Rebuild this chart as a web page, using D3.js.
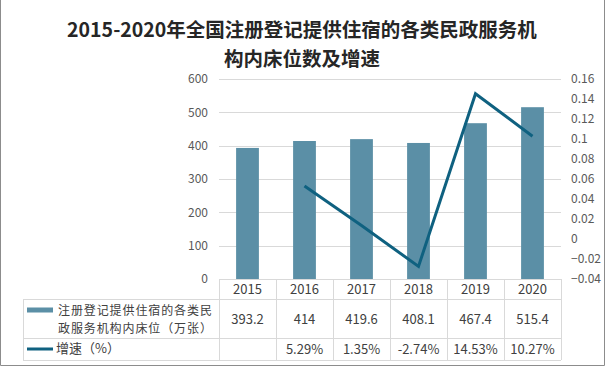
<!DOCTYPE html>
<html><head><meta charset="utf-8">
<script src="https://cdn.jsdelivr.net/npm/d3@7"></script>
<style>
html,body{margin:0;padding:0;background:#fff;}
svg{display:block;}
text{font-family:"Noto Sans CJK SC","Microsoft YaHei",sans-serif;}
</style></head><body>
<script>
const titleLines = ["2015-2020年全国注册登记提供住宿的各类民政服务机", "构内床位数及增速"];
const years = ["2015","2016","2017","2018","2019","2020"];
const beds = [393.2, 414, 419.6, 408.1, 467.4, 515.4];
const growth = [null, 0.0529, 0.0135, -0.0274, 0.1453, 0.1027];
const bedLabels = ["393.2","414","419.6","408.1","467.4","515.4"];
const growthLabels = ["", "5.29%", "1.35%", "-2.74%", "14.53%", "10.27%"];
const leftTicks = [0,100,200,300,400,500,600];
const rightTicks = [-0.04,-0.02,0,0.02,0.04,0.06,0.08,0.1,0.12,0.14,0.16];
const seriesNames = [["注册登记提供住宿的各类民","政服务机构内床位（万张）"], ["增速（%）"]];

const W=606,H=367;
const barColor="#5b8fa6", lineColor="#0f6180", gridColor="#d9d9d9", textColor="#404040", tickColor="#595959";
const svg=d3.select("body").append("svg").attr("width",W).attr("height",H);

// border
svg.append("path").attr("d",`M0.5,0 V${H-1.5} H${W-1.5} V0`).attr("fill","none").attr("stroke","#8c8c8c").attr("stroke-width",1);

// title
svg.append("g").selectAll("text").data(titleLines).join("text")
  .attr("x",302).attr("y",(d,i)=>37+i*29).attr("text-anchor","middle")
  .attr("font-size",19.5).attr("font-weight","bold").attr("fill","#262626").text(d=>d);

const x=d3.scaleBand().domain(years).range([219,561]).padding(0);
const yL=d3.scaleLinear().domain([0,600]).range([279,79]);
const yR=d3.scaleLinear().domain([-0.04,0.16]).range([279,79]);

// gridlines
svg.append("g").selectAll("line").data(leftTicks.filter(d=>d>0)).join("line")
  .attr("x1",219).attr("x2",561).attr("y1",d=>Math.round(yL(d))+0.5).attr("y2",d=>Math.round(yL(d))+0.5)
  .attr("stroke",gridColor).attr("stroke-width",1);

// left axis
const gL=svg.append("g").attr("transform","translate(208,0)")
  .call(d3.axisLeft(yL).tickValues(leftTicks).tickSize(0).tickPadding(0));
gL.select(".domain").remove();
gL.selectAll("text").attr("font-size",12).attr("fill",tickColor).attr("font-family","'Noto Sans CJK SC',sans-serif");

// right axis
const gR=svg.append("g").attr("transform","translate(571,0)")
  .call(d3.axisRight(yR).tickValues(rightTicks).tickFormat(d=>d3.format("")(+d.toFixed(2))).tickSize(0).tickPadding(0));
gR.select(".domain").remove();
gR.selectAll("text").attr("font-size",12).attr("fill",tickColor).attr("font-family","'Noto Sans CJK SC',sans-serif");

// bars
const bw=x.bandwidth()*0.4;
svg.append("g").selectAll("rect").data(beds).join("rect")
  .attr("x",(d,i)=>x(years[i])+x.bandwidth()/2-bw/2).attr("width",bw)
  .attr("y",d=>yL(d)).attr("height",d=>yL(0)-yL(d)).attr("fill",barColor);

// line
const pts=growth.map((g,i)=>({g,yr:years[i]})).filter(d=>d.g!==null);
svg.append("path").datum(pts)
  .attr("d",d3.line().x(d=>x(d.yr)+x.bandwidth()/2).y(d=>yR(d.g)))
  .attr("fill","none").attr("stroke",lineColor).attr("stroke-width",3).attr("stroke-linejoin","miter");

// data table
const rowY=[279,299,338,360];
const tbl=svg.append("g").attr("stroke",gridColor).attr("stroke-width",1).attr("fill","none");
tbl.append("line").attr("x1",219).attr("x2",561).attr("y1",rowY[0]+0.5).attr("y2",rowY[0]+0.5);
[1,2,3].forEach(k=>tbl.append("line").attr("x1",23).attr("x2",561).attr("y1",rowY[k]+0.5).attr("y2",rowY[k]+0.5));
const vx=years.map(y=>x(y)).concat([561]);
tbl.selectAll("line.v").data(vx).join("line").attr("class","v")
  .attr("x1",d=>Math.round(d)+0.5).attr("x2",d=>Math.round(d)+0.5).attr("y1",rowY[0]).attr("y2",rowY[3]);
tbl.append("line").attr("x1",23.5).attr("x2",23.5).attr("y1",rowY[1]).attr("y2",rowY[3]);

const cx=y=>x(y)+x.bandwidth()/2;
const tt=svg.append("g").attr("font-size",13).attr("fill",textColor).attr("text-anchor","middle");
tt.selectAll("text.yr").data(years).join("text").attr("class","yr").attr("x",d=>cx(d)).attr("y",294).text(d=>d);
tt.selectAll("text.b").data(bedLabels).join("text").attr("class","b").attr("x",(d,i)=>cx(years[i])).attr("y",324).text(d=>d);
tt.selectAll("text.g").data(growthLabels).join("text").attr("class","g").attr("x",(d,i)=>cx(years[i])).attr("y",354).text(d=>d);

// legend in table
svg.append("rect").attr("x",27).attr("y",307.5).attr("width",26).attr("height",5).attr("fill",barColor);
svg.append("rect").attr("x",27).attr("y",347.5).attr("width",26).attr("height",3).attr("fill",lineColor);
const lg=svg.append("g").attr("font-size",12).attr("letter-spacing",0.9).attr("fill",textColor);
lg.selectAll("text.s").data(seriesNames[0]).join("text").attr("class","s")
  .attr("x",58).attr("y",(d,i)=>314.5+i*18).text(d=>d);
lg.append("text").attr("x",56).attr("y",353).attr("font-size",13).attr("letter-spacing",0).text(seriesNames[1][0]);
</script>
</body></html>
